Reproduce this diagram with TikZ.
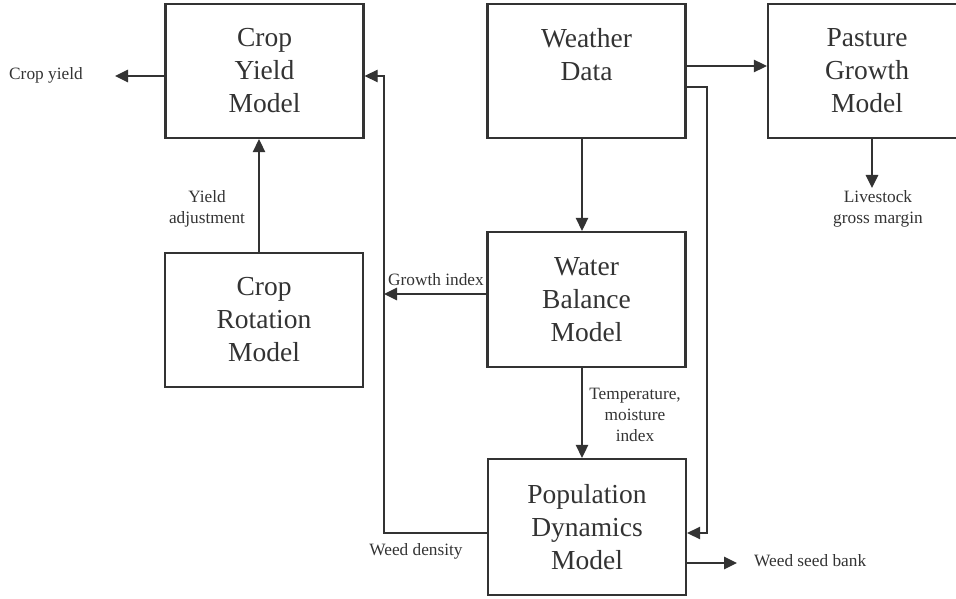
\documentclass[tikz,border=0pt]{standalone}
\usepackage{fontspec}
\setmainfont{Liberation Serif}
\usetikzlibrary{arrows.meta}
\definecolor{ink}{HTML}{333333}
\tikzset{
  boxnode/.style={draw=ink, line width=2.3pt, minimum width=198pt, minimum height=134pt,
    inner sep=0pt, align=center, text=ink, font=\fontsize{27.5}{33}\selectfont},
  lbl/.style={inner sep=0pt, align=center, text=ink, font=\fontsize{17.3}{21}\selectfont},
  conn/.style={draw=ink, line width=1.3pt},
  arr/.style={conn, -{Triangle[length=13pt, width=12.5pt]}},
}
\begin{document}
\begin{tikzpicture}[x=1pt, y=-1pt]
\useasboundingbox (0,0) rectangle (956,599);
% boxes
\node[boxnode] (cy) at (264.5,71) {Crop\\Yield\\Model};
\node[boxnode] (cr) at (264,320) {Crop\\Rotation\\Model};
\node[boxnode] (wd) at (586.5,71) {Weather\\Data\\\phantom{M}};
\node[boxnode] (pg) at (867,71) {Pasture\\Growth\\Model};
\node[boxnode, minimum height=135pt] (wb) at (586.5,299.5) {Water\\Balance\\Model};
\node[boxnode, minimum height=136pt] (pd) at (587,527) {Population\\Dynamics\\Model};
% labels
\node[lbl, anchor=base west] (cyl) at (9,80) {Crop yield};
\node[lbl] (yal) at (207,209) {Yield\\adjustment};
\node[lbl, anchor=base] (gil) at (436,285) {Growth index};
\node[lbl, anchor=base] (wdl) at (416,555) {Weed density};
\node[lbl] (tml) at (635,415) {Temperature,\\moisture\\index};
\node[lbl] (lsl) at (878,209) {Livestock\\gross margin};
\node[lbl, anchor=base west] (wsl) at (754,566) {Weed seed bank};
% coordinates
\coordinate (cyt) at (115,76);
\coordinate (git) at (384,294);
\coordinate (fb1) at (384,533);
\coordinate (fb2) at (384,76);
\coordinate (wr1) at (707,87);
\coordinate (wr2) at (707,533);
\coordinate (wst) at (737,563);
\coordinate (lst) at (872,188);
% connectors
\draw[arr] ([yshift=-5pt]cy.west) -- (cyt);
\draw[arr] ([xshift=-5pt]cr.north) -- ([xshift=-5pt]cr.north |- cy.south);
\draw[arr] ([yshift=5.5pt]wb.west) -- (git);
\draw[arr] ([yshift=-6pt]pd.west) -- (fb1) -- (fb2) -- ([yshift=-5pt]cy.east);
\draw[arr] ([yshift=5pt]wd.east) -- ([yshift=5pt]pg.west);
\draw[arr] ([yshift=-16pt]wd.east) -- (wr1) -- (wr2) -- ([yshift=-6pt]pd.east);
\draw[arr] ([xshift=-4.5pt]wd.south) -- ([xshift=-4.5pt]wb.north);
\draw[arr] ([xshift=-4.5pt]wb.south) -- ([xshift=-4.5pt]wb.south |- pd.north);
\draw[arr] ([yshift=-36pt]pd.east) -- (wst);
\draw[arr] ([xshift=5pt]pg.south) -- (lst);
\end{tikzpicture}
\end{document}
